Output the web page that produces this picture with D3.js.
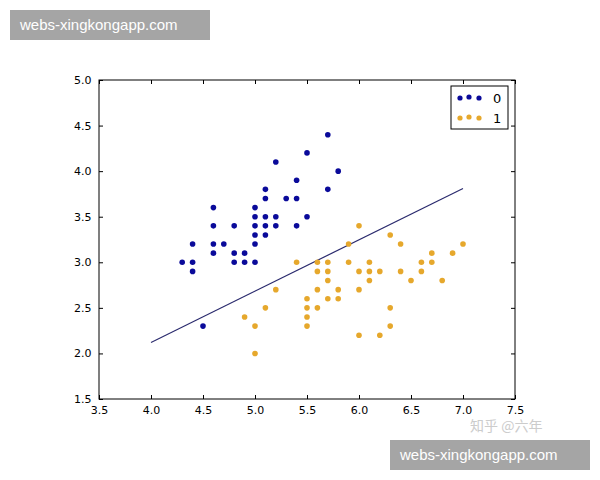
<!DOCTYPE html>
<html><head><meta charset="utf-8">
<script src="https://cdn.jsdelivr.net/npm/d3@7"></script>
<style>body{margin:0;background:#fff}</style></head>
<body><svg id="c" width="600" height="480"></svg>
<script>
const class0 = [[4.3,3.0],[4.4,3.2],[4.4,3.0],[4.4,2.9],[4.5,2.3],[4.6,3.6],[4.6,3.4],[4.6,3.2],[4.6,3.1],[4.7,3.2],[4.8,3.4],[4.8,3.1],[4.8,3.0],[4.9,3.1],[4.9,3.0],[5.0,3.6],[5.0,3.5],[5.0,3.4],[5.0,3.3],[5.0,3.2],[5.0,3.0],[5.1,3.8],[5.1,3.7],[5.1,3.5],[5.1,3.4],[5.1,3.3],[5.2,4.1],[5.2,3.5],[5.2,3.4],[5.3,3.7],[5.4,3.9],[5.4,3.7],[5.4,3.4],[5.5,4.2],[5.5,3.5],[5.7,4.4],[5.7,3.8],[5.8,4.0]];
const class1 = [[4.9,2.4],[5.0,2.3],[5.0,2.0],[5.1,2.5],[5.2,2.7],[5.4,3.0],[5.5,2.6],[5.5,2.5],[5.5,2.4],[5.5,2.3],[5.6,3.0],[5.6,2.9],[5.6,2.7],[5.6,2.5],[5.7,3.0],[5.7,2.9],[5.7,2.8],[5.7,2.6],[5.8,2.7],[5.8,2.6],[5.9,3.2],[5.9,3.0],[6.0,3.4],[6.0,2.9],[6.0,2.7],[6.0,2.2],[6.1,3.0],[6.1,2.9],[6.1,2.8],[6.2,2.9],[6.2,2.2],[6.3,3.3],[6.3,2.5],[6.3,2.3],[6.4,3.2],[6.4,2.9],[6.5,2.8],[6.6,3.0],[6.6,2.9],[6.7,3.1],[6.7,3.0],[6.8,2.8],[6.9,3.1],[7.0,3.2]];
const boundary = [[4.0,2.12],[7.0,3.81]];
const xTicks = [3.5,4.0,4.5,5.0,5.5,6.0,6.5,7.0,7.5];
const yTicks = [1.5,2.0,2.5,3.0,3.5,4.0,4.5,5.0];
const labels = ["0","1"];
const colors = ["#0a0a9a","#e6a82c"];

const svg = d3.select("#c");
const L=99,R=515,T=80,B=399;
const x = d3.scaleLinear().domain([3.5,7.5]).range([L,R]);
const y = d3.scaleLinear().domain([1.5,5.0]).range([B,T]);
const font = "DejaVu Sans, sans-serif";

svg.append("g").attr("transform",`translate(0,${B})`)
  .call(d3.axisBottom(x).tickValues(xTicks).tickFormat(d3.format(".1f")).tickSizeInner(-4).tickSizeOuter(0))
  .call(g=>{g.select(".domain").remove();g.selectAll("text").attr("dy","1.1em");});
svg.append("g").attr("transform",`translate(0,${T})`)
  .call(d3.axisTop(x).tickValues(xTicks).tickFormat("").tickSizeInner(-4).tickSizeOuter(0))
  .call(g=>g.select(".domain").remove());
svg.append("g").attr("transform",`translate(${L},0)`)
  .call(d3.axisLeft(y).tickValues(yTicks).tickFormat(d3.format(".1f")).tickSizeInner(-4).tickSizeOuter(0))
  .call(g=>{g.select(".domain").remove();g.selectAll("text").attr("dx","-0.4em");});
svg.append("g").attr("transform",`translate(${R},0)`)
  .call(d3.axisRight(y).tickValues(yTicks).tickFormat("").tickSizeInner(-4).tickSizeOuter(0))
  .call(g=>g.select(".domain").remove());
svg.selectAll(".tick text").attr("font-family",font).attr("font-size",11).attr("fill","#000");
svg.append("rect").attr("x",L).attr("y",T).attr("width",R-L).attr("height",B-T)
  .attr("fill","none").attr("stroke","#000").attr("stroke-width",1);

svg.append("path").datum(boundary)
  .attr("d",d3.line().x(d=>x(d[0])).y(d=>y(d[1])))
  .attr("stroke","#2b2b6e").attr("stroke-width",1.2).attr("fill","none");

[class0,class1].forEach((pts,i)=>{
  svg.append("g").selectAll("circle").data(pts).join("circle")
    .attr("cx",d=>x(d[0])).attr("cy",d=>y(d[1])).attr("r",2.8).attr("fill",colors[i]);
});

const lg = svg.append("g");
lg.append("rect").attr("x",451).attr("y",86).attr("width",57).attr("height",43)
  .attr("fill","#fff").attr("stroke","#000");
labels.forEach((lab,i)=>{
  const yy = 98+i*20;
  [460,469,479].forEach((xx,j)=>lg.append("circle").attr("cx",xx).attr("cy",yy+(j==1?-1:0)).attr("r",2.6).attr("fill",colors[i]));
  lg.append("text").attr("x",493).attr("y",yy+5).attr("font-family",font).attr("font-size",13).text(lab);
});

svg.append("text").attr("x",470).attr("y",431).attr("font-family","Noto Sans CJK SC").attr("font-size",14)
  .attr("fill","#ccc").text("知乎 @六年");
[[10,10],[390,440]].forEach(([bx,by])=>{
  svg.append("rect").attr("x",bx).attr("y",by).attr("width",200).attr("height",30).attr("fill","#a5a5a5");
  svg.append("text").attr("x",bx+10).attr("y",by+20).attr("font-family","Liberation Sans, sans-serif")
    .attr("font-size",15).attr("fill","#fff").text("webs-xingkongapp.com");
});
</script></body></html>
